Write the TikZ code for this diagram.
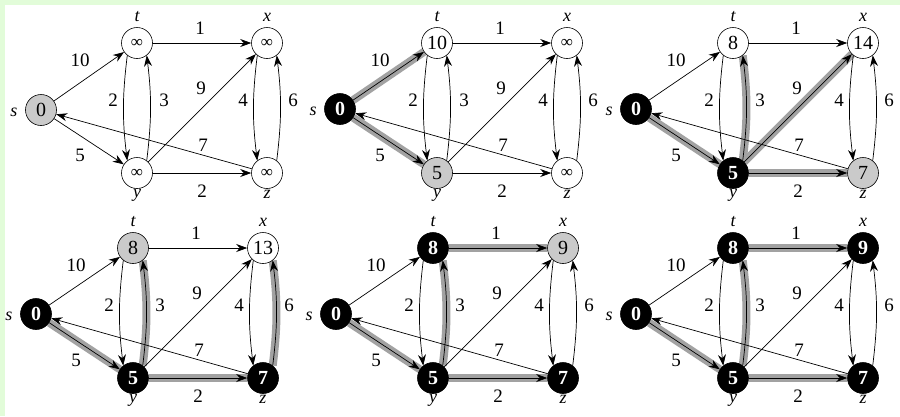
\documentclass[tikz,border=0pt]{standalone}
\usepackage{fontspec}
\setmainfont{Liberation Serif}
\usetikzlibrary{arrows.meta,backgrounds}
\definecolor{strip}{HTML}{E2FCD9}
\definecolor{hlgray}{HTML}{A2A2A2}
\definecolor{nodegray}{HTML}{CACACA}
\tikzset{
  vert/.style={circle,draw=black,line width=0.6pt,minimum size=31pt,inner sep=0pt,
    font=\fontsize{20}{20}\selectfont},
  wv/.style={vert,fill=white},
  gv/.style={vert,fill=nodegray},
  bv/.style={vert,fill=black,text=white,font=\fontsize{20}{20}\selectfont\bfseries},
  arr/.style={-{Stealth[length=11pt,width=8pt]},line width=0.7pt},
  hl/.style={line width=8pt,draw=hlgray},
  wl/.style={font=\fontsize{19}{19}\selectfont,inner sep=0pt},
  vl/.style={font=\fontsize{18}{18}\selectfont\itshape,inner sep=0pt,anchor=base},
  lc/.style={bend right=7},
}
\newcommand{\infsym}{{\fontsize{17}{17}\selectfont ∞}}
\newcommand{\myvnames}[1]{%
  \node[vl] (ls#1) at ([xshift=-27pt,yshift=-6pt]s#1.center) {s};
  \node[vl] (lt#1) at ([yshift=22pt]t#1.center) {t};
  \node[vl] (lx#1) at ([yshift=22pt]x#1.center) {x};
  \node[vl] (ly#1) at ([yshift=-24pt]y#1.center) {y};
  \node[vl] (lz#1) at ([yshift=-25pt]z#1.center) {z};
}
\newcommand{\myedges}[1]{%
  \draw[arr] (s#1) -- (t#1);
  \draw[arr] (s#1) -- (y#1);
  \draw[arr] (t#1) -- (x#1);
  \draw[arr] (t#1.232) to[lc] (y#1.128);
  \draw[arr] (y#1.52) to[lc] (t#1.-52);
  \draw[arr] (y#1) -- (x#1);
  \draw[arr] (x#1.232) to[lc] (z#1.128);
  \draw[arr] (z#1.52) to[lc] (x#1.-52);
  \draw[arr] (z#1) -- (s#1);
  \draw[arr] (y#1) -- (z#1);
  \node[wl] (w10#1) at (-57,17) {10};
  \node[wl] (w1#1) at (63,-15) {1};
  \node[wl] (w2#1) at (-24,57) {2};
  \node[wl] (w3#1) at (27,57) {3};
  \node[wl] (w9#1) at (64,45) {9};
  \node[wl] (w4#1) at (106,57) {4};
  \node[wl] (w6#1) at (156,57) {6};
  \node[wl] (w5#1) at (-57,112) {5};
  \node[wl] (w7#1) at (66,102) {7};
  \node[wl] (wb#1) at (65,148) {2};
}
\begin{document}
\begin{tikzpicture}[x=1pt,y=-1pt]
\useasboundingbox (0,0) rectangle (900,416);
\begin{scope}[on background layer]
  \fill[white] (0,0) rectangle (900,416);
  \fill[strip] (0,0) rectangle (900,5);
  \fill[strip] (0,0) rectangle (5,416);
\end{scope}

% panel a
\begin{scope}[shift={(137,43)}]
  \node[gv] (sa) at (-96,67) {0};
  \node[wv] (ta) at (0,0) {\infsym};
  \node[wv] (xa) at (130,0) {\infsym};
  \node[wv] (ya) at (0,130) {\infsym};
  \node[wv] (za) at (130,130) {\infsym};
  \myvnames{a}
  \myedges{a}
\end{scope}

% panel b
\begin{scope}[shift={(437,43)}]
  \node[bv] (sb) at (-97,66) {0};
  \node[wv] (tb) at (0,0) {10};
  \node[wv] (xb) at (130,0) {\infsym};
  \node[gv] (yb) at (0,130) {5};
  \node[wv] (zb) at (130,130) {\infsym};
  \myvnames{b}
  \begin{scope}[on background layer]
    \draw[hl] (sb) -- (tb);
    \draw[hl] (sb) -- (yb);
  \end{scope}
  \myedges{b}
\end{scope}

% panel c
\begin{scope}[shift={(733,43)}]
  \node[bv] (sc) at (-97,66) {0};
  \node[wv] (tc) at (0,0) {8};
  \node[wv] (xc) at (130,0) {14};
  \node[bv] (yc) at (0,130) {5};
  \node[gv] (zc) at (130,130) {7};
  \myvnames{c}
  \begin{scope}[on background layer]
    \draw[hl] (sc) -- (yc);
    \draw[hl] (yc.52) to[lc] (tc.-52);
    \draw[hl] (yc) -- (xc);
    \draw[hl] (yc) -- (zc);
  \end{scope}
  \myedges{c}
\end{scope}

% panel d
\begin{scope}[shift={(133,248)}]
  \node[bv] (sd) at (-97,66) {0};
  \node[gv] (td) at (0,0) {8};
  \node[wv] (xd) at (130,0) {13};
  \node[bv] (yd) at (0,130) {5};
  \node[bv] (zd) at (130,130) {7};
  \myvnames{d}
  \begin{scope}[on background layer]
    \draw[hl] (sd) -- (yd);
    \draw[hl] (yd.52) to[lc] (td.-52);
    \draw[hl] (yd) -- (zd);
    \draw[hl] (zd.52) to[lc] (xd.-52);
  \end{scope}
  \myedges{d}
\end{scope}

% panel e
\begin{scope}[shift={(433,248)}]
  \node[bv] (se) at (-97,66) {0};
  \node[bv] (te) at (0,0) {8};
  \node[gv] (xe) at (130,0) {9};
  \node[bv] (ye) at (0,130) {5};
  \node[bv] (ze) at (130,130) {7};
  \myvnames{e}
  \begin{scope}[on background layer]
    \draw[hl] (se) -- (ye);
    \draw[hl] (ye.52) to[lc] (te.-52);
    \draw[hl] (ye) -- (ze);
    \draw[hl] (te) -- (xe);
  \end{scope}
  \myedges{e}
\end{scope}

% panel f
\begin{scope}[shift={(733,248)}]
  \node[bv] (sf) at (-97,66) {0};
  \node[bv] (tf) at (0,0) {8};
  \node[bv] (xf) at (130,0) {9};
  \node[bv] (yf) at (0,130) {5};
  \node[bv] (zf) at (130,130) {7};
  \myvnames{f}
  \begin{scope}[on background layer]
    \draw[hl] (sf) -- (yf);
    \draw[hl] (yf.52) to[lc] (tf.-52);
    \draw[hl] (yf) -- (zf);
    \draw[hl] (tf) -- (xf);
  \end{scope}
  \myedges{f}
\end{scope}
\end{tikzpicture}
\end{document}
